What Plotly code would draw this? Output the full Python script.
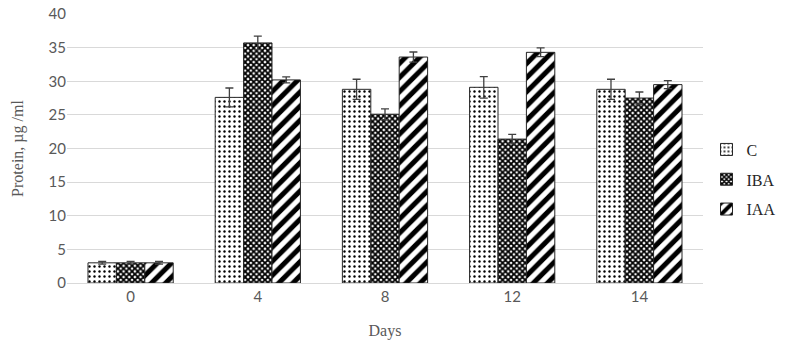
import plotly.graph_objects as go

days = ["0", "4", "8", "12", "14"]
c_vals = [3.0, 27.6, 28.8, 29.1, 28.8]
c_err = [0.2, 1.4, 1.5, 1.6, 1.5]
iba_vals = [3.0, 35.7, 25.1, 21.4, 27.5]
iba_err = [0.2, 1.0, 0.8, 0.7, 0.9]
iaa_vals = [3.0, 30.2, 33.6, 34.3, 29.5]
iaa_err = [0.2, 0.45, 0.75, 0.65, 0.6]

series = [
    ("C", c_vals, c_err, dict(shape=".", fgcolor="black", bgcolor="white", fgopacity=1, size=5, solidity=0.18)),
    ("IBA", iba_vals, iba_err, dict(shape="x", fgcolor="black", bgcolor="white", fgopacity=1, size=4, solidity=0.7)),
    ("IAA", iaa_vals, iaa_err, dict(shape="/", fgcolor="black", bgcolor="white", fgopacity=1, size=10, solidity=0.5)),
]

fig = go.Figure()
for name, vals, err, pat in series:
    fig.add_trace(go.Bar(
        name=name, x=days, y=vals, legendgroup=name,
        error_y=dict(type="data", array=err, color="#404040", thickness=1.3, width=4),
        marker=dict(color="white", line=dict(color="#262626", width=1), pattern=pat),
    ))

fig.update_layout(
    width=785, height=350,
    margin=dict(l=67, r=82, t=14, b=67, autoexpand=False),
    barmode="group", bargap=0.33, bargroupgap=0,
    plot_bgcolor="white", paper_bgcolor="white",
    legend=dict(xref="container", yref="container", x=0.9, y=0.487, yanchor="middle", xanchor="left",
                font=dict(family="Liberation Serif", size=16, color="#262626"),
                itemwidth=30, tracegroupgap=6),
    xaxis=dict(title=dict(text="Days", font=dict(family="Liberation Serif", size=16, color="#595959"), standoff=20),
               tickfont=dict(family="Lato", size=15, color="#595959"),
               showline=True, linecolor="#d9d9d9", ticks=""),
    yaxis=dict(title=dict(text="Protein, µg /ml", font=dict(family="Liberation Serif", size=16, color="#595959"), standoff=20),
               range=[0, 40], dtick=5, gridcolor="#d9d9d9",
               tickfont=dict(family="Lato", size=15, color="#595959"),
               zeroline=False),
)

fig.write_html("out.html")
